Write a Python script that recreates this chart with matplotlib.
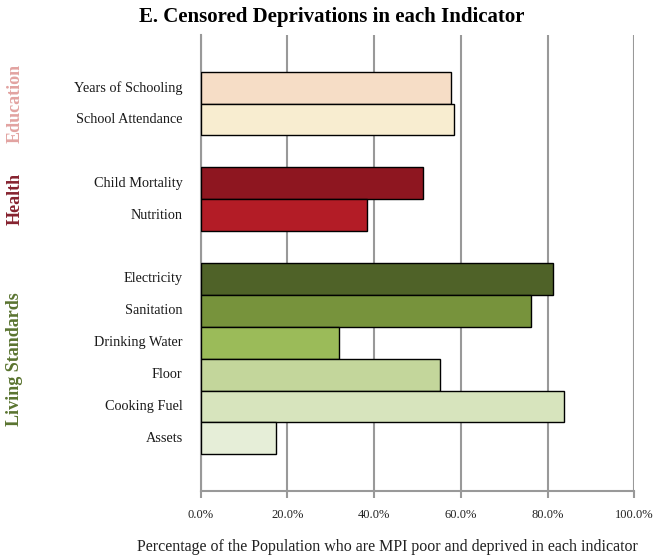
import matplotlib
matplotlib.use("Agg")
import matplotlib.pyplot as plt
from matplotlib.ticker import FuncFormatter
from matplotlib.transforms import offset_copy

plt.rcParams['font.family'] = ['Liberation Serif', 'DejaVu Serif']

groups = ["Education", "Health", "Living Standards"]
group_colors = ["#E2A3A1", "#86222F", "#5A7430"]
indicators = [
    ["Years of Schooling", "School Attendance"],
    ["Child Mortality", "Nutrition"],
    ["Electricity", "Sanitation", "Drinking Water", "Floor", "Cooking Fuel", "Assets"],
]
values = [
    [57.7, 58.5],
    [51.2, 38.4],
    [81.3, 76.2, 32.0, 55.2, 83.8, 17.4],
]
bar_colors = [
    ["#F6DDC6", "#F8EDD0"],
    ["#8E1620", "#B31C26"],
    ["#4F6228", "#77933C", "#9BBB59", "#C3D69B", "#D7E4BD", "#E6EED8"],
]

fig = plt.figure(figsize=(6.53, 5.57), dpi=100)
W, H = 653, 557
ax = fig.add_axes([200.7 / W, 1 - 491 / H, (634.3 - 200.7) / W, (491 - 35) / H])

label_tr = offset_copy(ax.get_yaxis_transform(), fig=fig, x=-13, y=0, units="points")

pos = 0
group_centers = []
for names, vals, cols in zip(indicators, values, bar_colors):
    start = pos
    for n, v, c in zip(names, vals, cols):
        ax.barh(pos, v, height=1.0, color=c, edgecolor="black", linewidth=1.0, zorder=3)
        ax.text(0, pos, n, transform=label_tr, ha="right", va="center", fontsize=10.3,
                color="#1a1a1a")
        pos += 1
    group_centers.append((start + pos - 1) / 2)
    pos += 1

last = pos - 2
ax.set_ylim(last + 1.65, -1.65)
ax.set_xlim(0, 100)
ax.set_xticks(range(0, 101, 20))
ax.xaxis.set_major_formatter(FuncFormatter(lambda x, p: f"{x:.1f}%"))
ax.tick_params(axis="x", direction="out", length=5, color="#999999", width=1.5,
               labelsize=9, pad=8, labelcolor="#222222")
ax.set_yticks([])
ax.grid(axis="x", color="#999999", linewidth=1.5, zorder=0)
for s in ["top", "right"]:
    ax.spines[s].set_visible(False)
for s in ["left", "bottom"]:
    ax.spines[s].set_color("#999999")
    ax.spines[s].set_linewidth(1.5)

fig.canvas.draw()
for g, c, gc in zip(groups, group_colors, group_centers):
    ydisp = ax.transData.transform((0, gc))[1]
    yfig = fig.transFigure.inverted().transform((0, ydisp))[1]
    fig.text(15 / W, yfig, g, rotation=90, ha="center", va="center",
             fontsize=13, fontweight="bold", color=c)

fig.text(332 / W, 1 - 17 / H, "E. Censored Deprivations in each Indicator",
         ha="center", va="center", fontsize=15, fontweight="bold", color="black")
fig.text(387 / W, 1 - 547 / H,
         "Percentage of the Population who are MPI poor and deprived in each indicator",
         ha="center", va="center", fontsize=11.5, color="#222222")

fig.savefig("out.png", dpi=100)
